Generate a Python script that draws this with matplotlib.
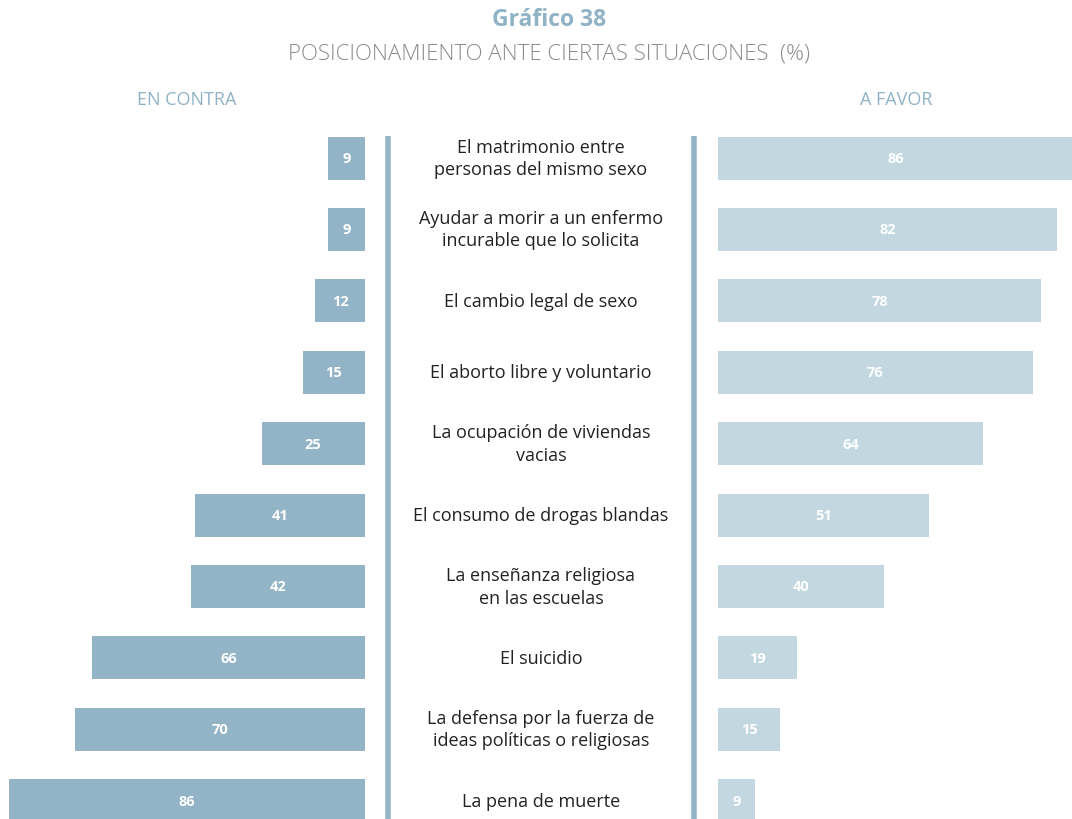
import matplotlib.pyplot as plt

categorias = [
    "El matrimonio entre\npersonas del mismo sexo",
    "Ayudar a morir a un enfermo\nincurable que lo solicita",
    "El cambio legal de sexo",
    "El aborto libre y voluntario",
    "La ocupación de viviendas\nvacias",
    "El consumo de drogas blandas",
    "La enseñanza religiosa\nen las escuelas",
    "El suicidio",
    "La defensa por la fuerza de\nideas políticas o religiosas",
    "La pena de muerte",
]
en_contra = [9, 9, 12, 15, 25, 41, 42, 66, 70, 86]
a_favor = [86, 82, 78, 76, 64, 51, 40, 19, 15, 9]

W, H = 1072, 820
C_CONTRA = "#93b4c6"
C_FAVOR = "#c3d7e1"
C_TITLE = "#8fb2c6"

plt.rcParams['font.family'] = ['Open Sans', 'DejaVu Sans']

fig = plt.figure(figsize=(W / 100, H / 100), dpi=100)


def px_axes(x0, y0, x1, y1):
    # axes placed by pixel box (top-left origin)
    return fig.add_axes([x0 / W, 1 - y1 / H, (x1 - x0) / W, (y1 - y0) / H])


px_per_unit = 356 / 86
row_px = 71.4
top_px, bot_px = 120, 820
row0_px = 159
ylim = ((bot_px - row0_px) / row_px, (top_px - row0_px) / row_px)
ypos = list(range(len(categorias)))
bar_h = 43 / row_px

# left: en contra
axl = px_axes(0, top_px, 365, bot_px)
axl.barh(ypos, en_contra, height=bar_h, color=C_CONTRA)
axl.set_xlim(365 / px_per_unit, 0)
axl.set_ylim(*ylim)
for y, v in zip(ypos, en_contra):
    axl.text(v / 2, y, str(v), ha="center", va="center", color="white",
             fontsize=10.5, fontweight="bold")

# right: a favor
axr = px_axes(718, top_px, W, bot_px)
axr.barh(ypos, a_favor, height=bar_h, color=C_FAVOR)
axr.set_xlim(0, (W - 718) / px_per_unit)
axr.set_ylim(*ylim)
for y, v in zip(ypos, a_favor):
    axr.text(v / 2, y, str(v), ha="center", va="center", color="white",
             fontsize=10.5, fontweight="bold")

# middle: category labels between two rules
axm = px_axes(365, top_px, 718, bot_px)
axm.set_xlim(365, 718)
axm.set_ylim(*ylim)
for y, c in zip(ypos, categorias):
    axm.text(541, y, c, ha="center", va="center", color="#222222",
             fontsize=13, linespacing=1.3)
y_line_top = (137 - row0_px) / row_px
for x in (388, 694):
    axm.plot([x, x], [y_line_top, ylim[0]], color=C_CONTRA, lw=4,
             solid_capstyle="butt")

for ax in (axl, axr, axm):
    ax.axis("off")

fig.text(549 / W, 1 - 20 / H, "Gráfico 38", ha="center", va="center",
         color=C_TITLE, fontsize=16.5, fontweight="bold")
fig.text(549 / W, 1 - 54 / H, "POSICIONAMIENTO ANTE CIERTAS SITUACIONES  (%)",
         ha="center", va="center", color="#8a8a8a", fontsize=16,
         fontweight="light")
fig.text(187 / W, 1 - 100 / H, "EN CONTRA", ha="center", va="center",
         color=C_TITLE, fontsize=13)
fig.text(896 / W, 1 - 100 / H, "A FAVOR", ha="center", va="center",
         color=C_TITLE, fontsize=13)

fig.savefig("out.png", dpi=100)
